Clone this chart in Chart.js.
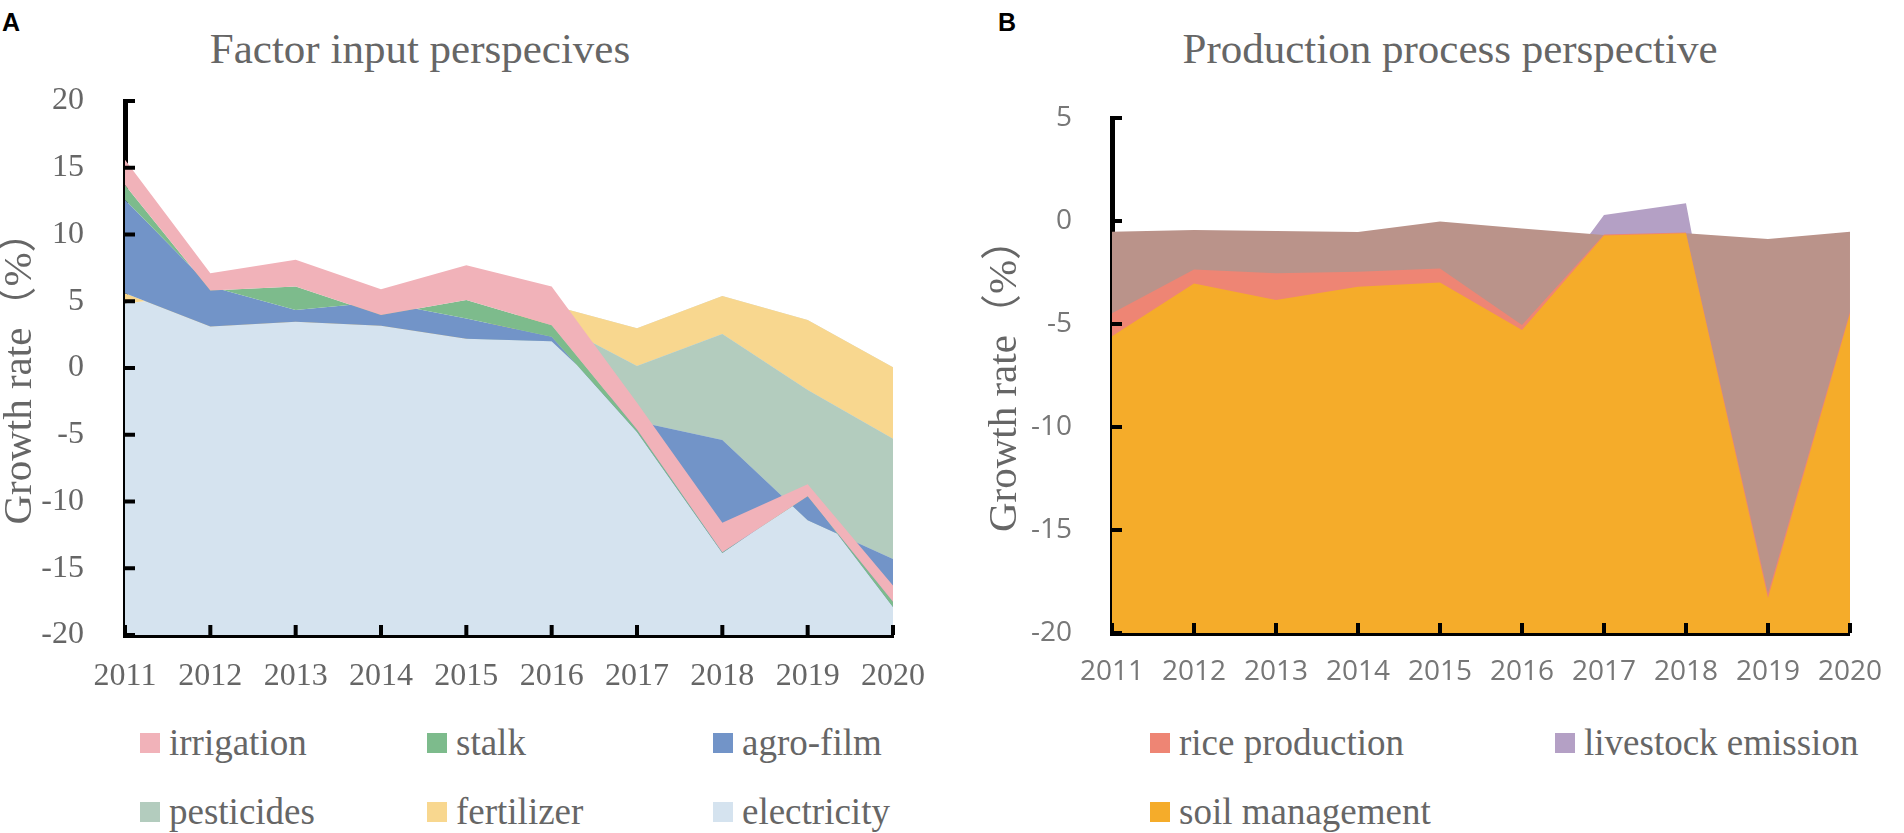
<!DOCTYPE html>
<html>
<head>
<meta charset="utf-8">
<title>Growth rate decomposition</title>
<script src="https://cdn.jsdelivr.net/npm/chart.js@4.4.1/dist/chart.umd.min.js"></script>
<style>
  html, body { margin: 0; padding: 0; background: #fff; }
  #page { position: relative; width: 1904px; height: 833px; overflow: hidden;
          font-family: "Liberation Serif", "Times New Roman", serif; }
  canvas { position: absolute; top: 0; }
  .tag { position: absolute; top: 8px; font: bold 25px "Liberation Sans Narrow", "Liberation Sans", Arial, sans-serif; color: #000; }
  .title { position: absolute; top: 27px; font-size: 43px; line-height: 1; color: #666;
           text-align: center; white-space: nowrap; }
  .item { position: absolute; display: flex; align-items: center; font-size: 37px; line-height: 1.2;
          color: #666; white-space: nowrap; }
  .item .box { display: inline-block; width: 20px; height: 20px; margin-right: 9px; }
</style>
</head>
<body>
<div id="page">
  <div class="tag" style="left:2px">A</div>
  <div class="title" style="left:0; width:840px">Factor input perspecives</div>
  <canvas id="chartA" width="960" height="700" style="left:0"></canvas>

  <div class="tag" style="left:998px">B</div>
  <div class="title" style="left:1150px; width:600px">Production process perspective</div>
  <canvas id="chartB" width="944" height="700" style="left:960px"></canvas>
</div>

<script>
// years on the category axis (both panels)
const years = ['2011', '2012', '2013', '2014', '2015', '2016', '2017', '2018', '2019', '2020'];

// Panel A - Excel stacked area, so each array is the upper edge of that band
// (electricity band starts at the axis at -20)
const electricity = [4.85, 5.5, 3.8, 3.5, 2.8, 4.7, 2.97, 5.4, 3.6, 0.05];
const fertilizer  = [5.6, 3.1, 3.47, 3.17, 2.2, 3.5, 0.15, 2.55, -1.65, -5.3];
const pesticides  = [5.6, 3.1, 3.47, 3.17, 2.2, 2.0, -4.0, -5.4, -11.4, -14.3];
const agroFilm    = [12.6, 6.1, 4.35, 4.95, 3.7, 2.35, -4.8, -13.85, -9.5, -17.9];
const stalk       = [13.7, 5.8, 6.1, 3.97, 5.1, 3.2, -4.6, -13.8, -9.6, -17.5];
const irrigation  = [15.6, 7.1, 8.1, 5.9, 7.7, 6.1, -2.6, -11.6, -8.7, -16.3];

// Panel B - overlapping areas, all filled down to the axis
const soilManagement    = [-5.6, -3.03, -3.83, -3.19, -2.99, -5.29, -0.7, -0.6, -18.3, -4.5];
const riceProduction    = [-4.48, -2.35, -2.54, -2.46, -2.3, -5.05, -0.66, -0.56, -18.1, -4.4];
const livestockEmission = [-1.0, -1.0, -1.0, -1.0, -1.0, -5.1, 0.29, 0.86, -20, -5.0];
const otherEmission     = [-0.52, -0.44, -0.49, -0.54, -0.03, -0.36, -0.68, -0.6, -0.87, -0.52]; // brown, no legend entry

// axis ranges
const yRangeA = [-20, 20];
const yRangeB = [-20, 5];

const colors = {
  irrigation: '#F1B2B9', stalk: '#7DBB8C', agroFilm: '#7294C8',
  pesticides: '#B3CCBE', fertilizer: '#F8D78F', electricity: '#D5E3EF',
  rice: '#EE8574', livestock: '#B4A0C5', soil: '#F5AC2A', other: '#BA938A'
};

function band(label, data, color, fill, order) {
  return {
    label: label, data: data, backgroundColor: color,
    borderColor: 'transparent', borderWidth: 0, pointRadius: 0,
    tension: 0, fill: fill, order: order
  };
}

// black tick marks pointing into the plot, like the original
const innerTicks = {
  id: 'innerTicks',
  afterDraw(chart) {
    const ctx = chart.ctx, a = chart.chartArea;
    const x = chart.scales.x, y = chart.scales.y;
    ctx.save();
    ctx.strokeStyle = '#000';
    ctx.lineWidth = 4;
    y.ticks.forEach((t, i) => {
      const py = y.getPixelForTick(i);
      ctx.beginPath(); ctx.moveTo(a.left, py); ctx.lineTo(a.left + 10, py); ctx.stroke();
    });
    x.ticks.forEach((t, i) => {
      const px = x.getPixelForTick(i);
      ctx.beginPath(); ctx.moveTo(px, a.bottom); ctx.lineTo(px, a.bottom - 10); ctx.stroke();
    });
    ctx.restore();
  }
};

function panelOptions(p) {
  return {
    responsive: false,
    animation: false,
    layout: { padding: { left: 0, right: p.right, top: p.top, bottom: 0 } },
    plugins: { legend: { display: false }, tooltip: { enabled: false }, title: { display: false } },
    scales: {
      x: {
        z: 1,
        grid: { display: false, drawTicks: false },
        border: { display: true, color: '#000', width: 5 },
        ticks: { color: p.tickColor, font: p.xFont, padding: p.xPad, maxRotation: 0, autoSkip: false },
        afterFit: s => { s.height = p.xHeight; }
      },
      y: {
        z: 1,
        min: p.range[0], max: p.range[1],
        grid: { display: false, drawTicks: false },
        border: { display: true, color: '#000', width: 5 },
        ticks: { stepSize: 5, color: p.tickColor, font: p.yFont, padding: p.yPad },
        title: {
          display: true, text: 'Growth rate（%）', color: '#666',
          font: { family: '"Liberation Serif", "Noto Sans CJK SC", serif', size: 41, lineHeight: 1 },
          padding: { top: p.titlePad, bottom: 0 }
        },
        afterFit: s => { s.width = p.yWidth; }
      }
    }
  };
}

const serifTicks = { family: '"Liberation Serif", serif', size: 32 };
const sansTicks = { family: '"Open Sans", sans-serif', size: 28 };

const chartA = new Chart(document.getElementById('chartA'), {
  type: 'line',
  data: {
    labels: years,
    datasets: [
      band('electricity', electricity, colors.electricity, 'start', 6),
      band('fertilizer', fertilizer, colors.fertilizer, '-1', 5),
      band('pesticides', pesticides, colors.pesticides, '-1', 4),
      band('agro-film', agroFilm, colors.agroFilm, '-1', 3),
      band('stalk', stalk, colors.stalk, '-1', 2),
      band('irrigation', irrigation, colors.irrigation, '-1', 1)
    ]
  },
  options: panelOptions({
    range: yRangeA, top: 101, right: 67, yWidth: 125, xHeight: 65,
    tickColor: '#666', xFont: serifTicks, yFont: serifTicks, xPad: 22, yPad: 41, titlePad: 0
  }),
  plugins: [innerTicks]
});

const chartB = new Chart(document.getElementById('chartB'), {
  type: 'line',
  data: {
    labels: years,
    datasets: [
      band('livestock emission', livestockEmission, colors.livestock, 'start', 4),
      band('', otherEmission, colors.other, 'start', 3),
      band('rice production', riceProduction, colors.rice, 'start', 2),
      band('soil management', soilManagement, colors.soil, 'start', 1)
    ]
  },
  options: panelOptions({
    range: yRangeB, top: 118, right: 36, yWidth: 152, xHeight: 67,
    tickColor: '#777', xFont: sansTicks, yFont: sansTicks, xPad: 22, yPad: 40, titlePad: 25
  }),
  plugins: [innerTicks]
});

// html legend laid out on a grid like the original
function buildLegend(chart, names, slots) {
  const page = document.getElementById('page');
  names.forEach((name, i) => {
    const ds = chart.data.datasets.find(d => d.label === name);
    const item = document.createElement('div');
    item.className = 'item';
    item.style.left = slots[i][0] + 'px';
    item.style.top = slots[i][1] + 'px';
    const box = document.createElement('span');
    box.className = 'box';
    box.style.background = ds.backgroundColor;
    item.appendChild(box);
    item.appendChild(document.createTextNode(name));
    page.appendChild(item);
  });
}

buildLegend(chartA,
  ['irrigation', 'stalk', 'agro-film', 'pesticides', 'fertilizer', 'electricity'],
  [[140, 721], [427, 721], [713, 721], [140, 790], [427, 790], [713, 790]]);
buildLegend(chartB,
  ['rice production', 'livestock emission', 'soil management'],
  [[1150, 721], [1555, 721], [1150, 790]]);
</script>
</body>
</html>
